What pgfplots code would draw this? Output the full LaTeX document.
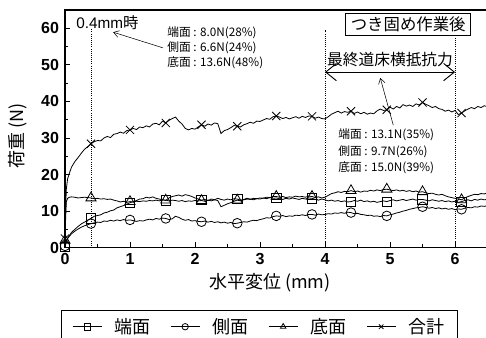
\documentclass[border=0pt]{standalone}
\usepackage{fontspec}
\setmainfont{Liberation Sans}
\newfontfamily\jp{Noto Sans CJK JP}
\usepackage{pgfplots}
\pgfplotsset{compat=1.18}
\usepackage{pgfplotstable}
\usetikzlibrary{arrows.meta}

\pgfplotstableread{
x sq ci tr tot
0.00 0.3 0.5 2.0 2.5
0.01 1.0 1.0 8.0 10.0
0.02 1.8 1.8 12.5 16.0
0.04 2.6 2.5 13.5 18.8
0.07 3.4 3.2 13.8 20.5
0.10 4.2 3.8 13.9 22.0
0.15 5.0 4.5 13.8 23.5
0.20 5.8 5.1 13.6 24.6
0.25 6.5 5.6 13.7 25.8
0.30 7.0 6.0 13.8 26.9
0.35 7.5 6.3 13.7 27.6
0.40 8.0 6.6 13.6 28.4
0.45 8.6 6.8 13.4 29.0
0.50 8.8 7.0 13.5 29.3
0.55 9.0 6.9 13.3 29.2
0.60 9.5 7.3 13.4 30.0
0.65 9.7 7.2 13.2 30.4
0.70 10.1 7.5 13.3 30.1
0.75 10.3 7.3 13.0 31.0
0.80 10.9 7.6 12.8 31.2
0.85 11.2 7.4 12.5 31.6
0.90 11.5 7.7 12.7 31.3
0.95 11.9 7.5 12.4 32.0
1.00 12.3 7.6 12.6 32.2
1.05 12.6 7.4 12.5 32.6
1.10 12.9 7.2 12.7 32.3
1.15 13.3 7.4 12.6 33.0
1.20 13.4 7.3 12.8 32.8
1.25 13.8 7.6 12.7 33.3
1.30 13.6 7.8 12.9 33.0
1.35 13.9 7.6 12.8 33.8
1.40 13.5 8.0 13.0 34.0
1.45 13.3 7.8 12.8 33.6
1.50 13.1 8.1 13.1 34.6
1.55 12.9 8.0 13.0 34.1
1.60 13.6 7.7 12.8 34.8
1.65 14.0 7.9 13.0 35.3
1.70 14.2 8.6 12.9 35.7
1.75 14.4 8.3 12.7 34.6
1.80 14.1 7.8 12.9 33.8
1.85 14.5 7.5 12.6 32.6
1.90 14.3 7.7 12.8 32.2
1.95 14.0 7.3 12.7 32.6
2.00 13.6 7.4 12.9 32.4
2.05 13.3 7.2 12.8 33.0
2.10 13.0 7.1 12.9 33.6
2.15 13.2 7.3 12.7 33.2
2.20 12.9 7.0 13.0 33.8
2.25 13.3 7.2 12.8 33.5
2.30 13.1 6.9 13.1 34.1
2.35 13.5 7.1 12.9 33.9
2.40 13.2 6.8 11.2 31.2
2.45 13.0 7.0 11.6 32.0
2.50 13.3 6.7 12.0 32.3
2.55 13.1 6.9 12.3 32.8
2.60 13.4 6.6 12.7 33.4
2.65 13.3 6.7 13.0 33.2
2.70 13.0 6.9 12.8 33.0
2.75 13.2 7.1 13.1 33.6
2.80 13.5 7.0 13.3 33.9
2.85 13.3 7.3 13.2 34.3
2.90 13.1 7.5 13.5 34.0
2.95 13.4 7.4 13.4 34.6
3.00 13.3 7.7 13.6 34.5
3.05 13.6 7.9 13.5 34.9
3.10 13.4 8.2 13.8 35.3
3.15 13.7 8.1 13.7 35.1
3.20 13.5 8.5 14.0 35.8
3.25 13.6 8.7 14.0 36.0
3.30 13.4 8.6 13.8 35.7
3.35 13.2 8.8 14.0 35.3
3.40 13.5 8.5 13.7 35.6
3.45 13.3 8.7 13.9 35.2
3.50 13.6 8.6 13.8 35.5
3.55 13.4 8.9 14.1 35.8
3.60 13.2 8.8 13.9 35.4
3.65 13.5 9.0 14.0 35.9
3.70 13.3 8.8 13.8 35.6
3.75 13.6 9.1 14.1 36.0
3.80 13.5 9.1 14.0 35.9
3.85 13.2 8.9 13.7 35.4
3.90 13.0 9.2 13.9 35.7
3.95 13.3 9.0 13.6 35.3
4.00 13.1 9.1 13.8 35.2
4.05 12.8 9.3 14.3 35.8
4.10 13.0 9.2 14.8 36.5
4.15 12.7 9.5 15.0 36.9
4.20 12.9 9.4 15.3 37.3
4.25 12.6 9.6 15.1 36.8
4.30 12.8 9.4 15.4 37.2
4.35 12.5 9.7 15.3 37.0
4.40 12.6 9.6 15.6 37.3
4.45 12.9 9.3 15.3 36.7
4.50 12.7 9.4 15.5 37.1
4.55 13.0 9.1 15.2 36.6
4.60 12.6 9.0 15.5 37.0
4.65 12.8 8.8 15.4 36.5
4.70 12.5 8.9 15.7 36.8
4.75 12.7 8.6 15.5 36.6
4.80 12.4 8.7 15.8 37.4
4.85 12.6 8.5 15.6 37.9
4.90 12.8 8.8 15.9 37.5
4.95 12.6 8.7 16.0 37.7
5.00 12.9 9.0 15.8 38.4
5.05 13.1 9.2 15.6 37.9
5.10 12.8 9.5 15.8 38.6
5.15 13.0 9.7 15.5 38.2
5.20 13.2 10.0 15.7 39.1
5.25 12.9 10.2 15.4 38.7
5.30 13.1 10.5 15.6 39.0
5.35 13.3 10.7 15.3 38.6
5.40 13.0 10.9 15.5 39.3
5.45 13.2 11.0 15.2 39.0
5.50 13.2 11.2 15.3 39.7
5.55 13.0 11.0 15.0 39.2
5.60 12.8 10.8 14.8 38.8
5.65 13.1 11.0 14.9 38.3
5.70 12.9 10.7 14.6 38.6
5.75 12.7 10.9 14.4 38.0
5.80 12.9 10.6 14.6 37.8
5.85 12.6 10.8 14.2 37.3
5.90 12.8 10.5 13.9 37.6
5.95 12.5 10.7 13.7 37.1
6.00 12.7 10.4 13.5 37.5
6.05 12.4 10.6 13.3 36.4
6.10 12.6 10.5 13.1 36.8
6.15 12.9 10.8 13.6 37.4
6.20 13.1 11.0 14.0 37.9
6.25 12.8 10.9 14.3 38.3
6.30 13.2 11.2 14.6 38.0
6.35 13.0 11.1 14.5 38.6
6.40 13.3 11.4 14.8 38.3
6.45 13.1 11.3 14.7 38.8
6.50 13.2 11.5 15.0 38.5
}\data

\begin{document}
\begin{tikzpicture}
\begin{axis}[
  at={(0pt,0pt)}, anchor=south west,
  scale only axis, width=316.9pt, height=178.4pt,
  xmin=0, xmax=6.5, ymin=0, ymax=65,
  xtick={0,1,2,3,4,5,6}, ytick={0,10,20,30,40,50,60},
  minor x tick num=1, minor y tick num=1,
  tick pos=left, tick align=inside,
  major tick length=4pt, minor tick length=2.5pt,
  tick style={black, line width=0.6pt},
  axis line style={line width=1.1pt},
  /pgf/number format/assume math mode=true,
  ticklabel style={font=\bfseries\fontsize{12}{13}\selectfont},
  yticklabel style={xshift=-1pt},
  xticklabel style={yshift=-1pt},
  xlabel={\jp 水平変位 (mm)},
  ylabel={\jp 荷重 (N)},
  label style={font=\jp\fontsize{13.5}{15}\selectfont},
  xlabel style={at={(axis description cs:0.485,-0.148)}, anchor=center},
  ylabel style={at={(axis description cs:-0.112,0.47)}, anchor=center},
  clip=false,
  legend columns=4,
  legend style={at={(axis description cs:-0.0095,-0.263)}, anchor=north west,
    draw=black, line width=0.8pt, font=\jp\fontsize{13.5}{15}\selectfont,
    /tikz/every even column/.append style={column sep=13pt},
    inner xsep=8pt, inner ysep=3.5pt},
  legend image code/.code={\draw[#1, mark indices={2}, mark size=2.4pt, line width=0.5pt] plot coordinates {(0pt,0pt) (11pt,0pt) (22pt,0pt)};},
  every axis plot/.append style={black, line width=0.6pt, mark indices={1,12,24,35,46,57,69,80,92,103,114,126}, mark options={solid, fill=white, line width=0.6pt}},
]
\addplot[mark=square, mark size=3.5pt] table[x=x,y=sq]{\data};
\addlegendentry{\hspace{7pt}端面}
\addplot[mark=o, mark size=3.6pt] table[x=x,y=ci]{\data};
\addlegendentry{\hspace{7pt}側面}
\addplot[mark=triangle, mark size=4.4pt] table[x=x,y=tr]{\data};
\addlegendentry{\hspace{7pt}底面}
\addplot[mark=x, mark size=4.3pt] table[x=x,y=tot]{\data};
\addlegendentry{\hspace{7pt}合計\hspace{30pt}}

\draw[densely dotted, line width=0.6pt] (axis cs:0.4,0) -- (axis cs:0.4,60);
\draw[densely dotted, line width=0.6pt] (axis cs:4,0) -- (axis cs:4,59.5);
\draw[densely dotted, line width=0.6pt] (axis cs:6,0) -- (axis cs:6,57.5);

\node[anchor=west, inner sep=0pt, font=\fontsize{11.5}{13}\selectfont] at (axis cs:0.17,61.4) {0.4mm{\jp 時}};
\draw[-{Straight Barb[length=4pt,width=5pt]}, line width=0.4pt] (axis cs:1.51,54.6) -- (axis cs:0.74,58.9);
\node[anchor=west, inner sep=0pt, font=\jp\fontsize{8.8}{10}\selectfont] at (axis cs:1.57,58.7) {端面 : 8.0N(28\%)};
\node[anchor=west, inner sep=0pt, font=\jp\fontsize{8.8}{10}\selectfont] at (axis cs:1.57,54.6) {側面 : 6.6N(24\%)};
\node[anchor=west, inner sep=0pt, font=\jp\fontsize{8.8}{10}\selectfont] at (axis cs:1.57,50.5) {底面 : 13.6N(48\%)};

\node[draw, fill=white, line width=0.8pt, font=\jp\fontsize{12.3}{14}\selectfont, minimum width=93.75pt, minimum height=16.5pt, inner sep=1pt] at (axis cs:5.28,61.1) {つき固め作業後};
\node[font=\jp\fontsize{11.8}{13}\selectfont, inner sep=0pt] at (axis cs:5.0,51.3) {最終道床横抵抗力};
\draw[{Straight Barb[length=8pt,width=13pt]}-{Straight Barb[length=8pt,width=13pt]}, line width=0.7pt] (axis cs:4,48) -- (axis cs:6,48);
\draw[-{Straight Barb[length=4pt,width=5pt]}, line width=0.4pt] (axis cs:5.05,33.5) -- (axis cs:4.85,46.4);
\node[anchor=west, inner sep=0pt, font=\jp\fontsize{8.8}{10}\selectfont] at (axis cs:4.2,30.8) {端面 : 13.1N(35\%)};
\node[anchor=west, inner sep=0pt, font=\jp\fontsize{8.8}{10}\selectfont] at (axis cs:4.2,26.1) {側面 : 9.7N(26\%)};
\node[anchor=west, inner sep=0pt, font=\jp\fontsize{8.8}{10}\selectfont] at (axis cs:4.2,21.8) {底面 : 15.0N(39\%)};
\end{axis}
\pgfresetboundingbox
\path[use as bounding box] (-48.75pt,-67.7pt) rectangle (315.75pt,185.8pt);
\end{tikzpicture}
\end{document}
